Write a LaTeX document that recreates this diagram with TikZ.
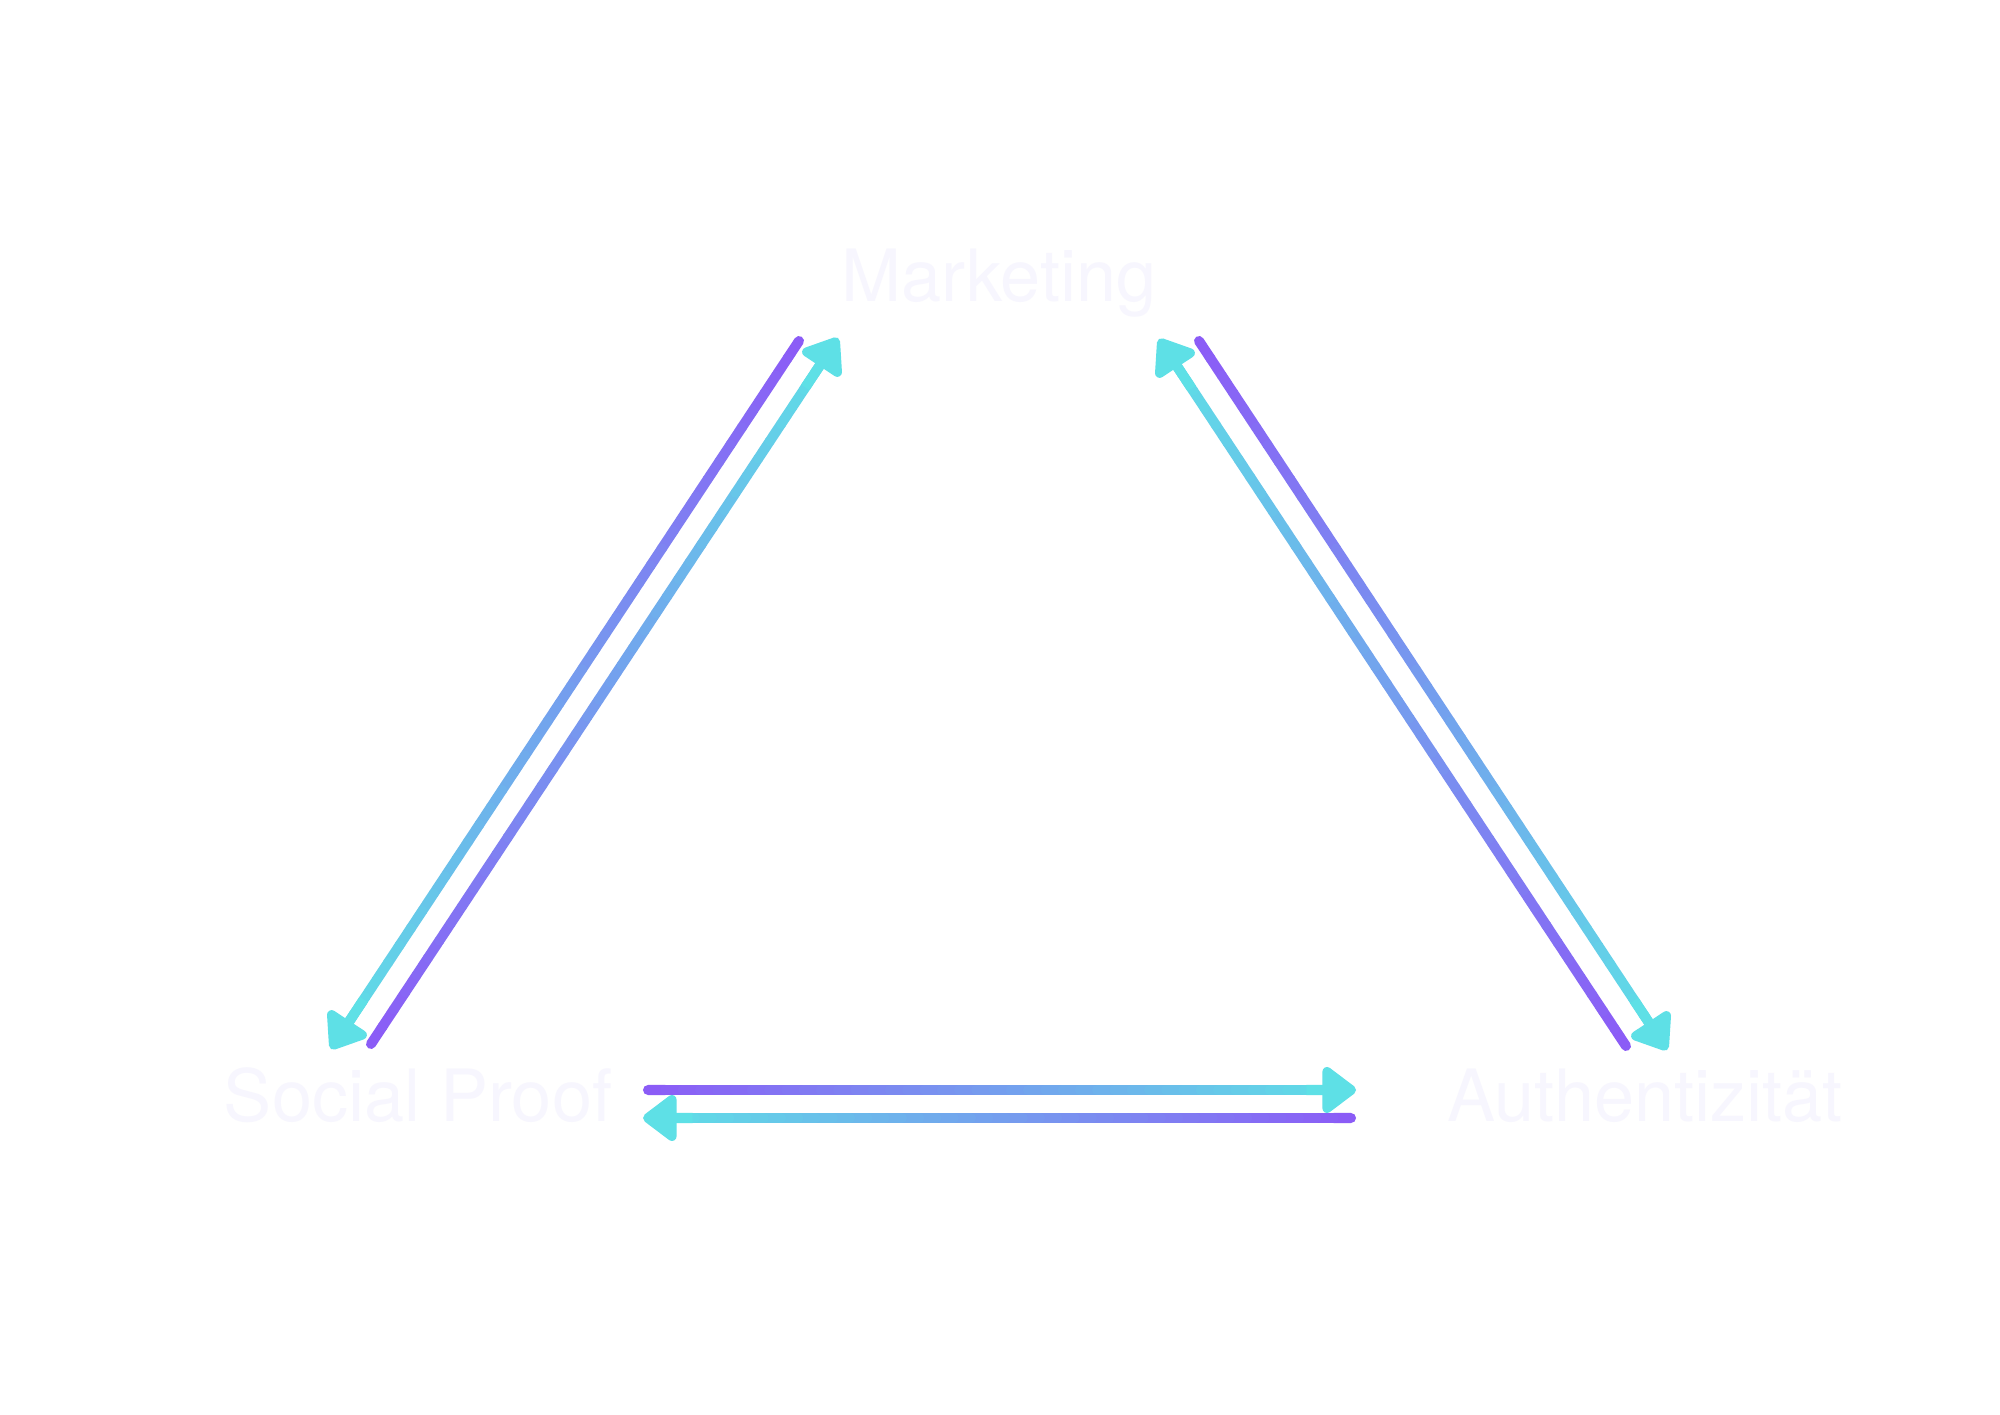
\documentclass[tikz,border=0pt]{standalone}
\usepackage{fontspec}
\setmainfont{TeX Gyre Heros}
\usepackage{tikz}
\usetikzlibrary{calc,arrows.meta}
\definecolor{purpleline}{HTML}{8B5CF6}
\definecolor{cyanline}{HTML}{5EE0E6}
\definecolor{labeltext}{HTML}{F7F6FE}

\begin{document}
\begin{tikzpicture}[label/.style = {anchor=base, text=labeltext, font=\fontsize{20.5}{24}\selectfont},
    gradline/.style = {line width=2.85pt, line cap=round},
    headline/.style = {draw=cyanline, line width=2.85pt, line join=round,
        -{Triangle[length=10.5pt, width=15pt, round]}}]
    \fill[white] (0,0) rectangle (20,14.14);
    \useasboundingbox (0,0) rectangle (20,14.14);
    \node[label] (marketing) at (9.99,11.12) {Marketing};
    \node[label] (social) at (4.18,2.92) {Social Proof};
    \node[label] (authent) at (16.45,2.92) {Authentizität};
    % ends of the six connectors
    \coordinate (m2s-tail) at (7.99,10.73);
    \coordinate (m2s-head) at (3.31,3.65);
    \coordinate (s2m-tail) at (3.71,3.70);
    \coordinate (s2m-head) at (8.38,10.76);
    \coordinate (m2a-tail) at (11.99,10.73);
    \coordinate (m2a-head) at (16.67,3.64);
    \coordinate (a2m-tail) at (16.26,3.68);
    \coordinate (a2m-head) at (11.59,10.75);
    \coordinate (s2a-tail) at (6.48,3.24);
    \coordinate (s2a-head) at (13.56,3.24);
    \coordinate (a2s-tail) at (13.51,2.96);
    \coordinate (a2s-head) at (6.43,2.96);
    \foreach \t in {m2s, s2m, m2a, a2m, s2a, a2s} {
        \foreach \i in {0,...,39} {
            \pgfmathsetmacro\mix{100-2.5*\i}
            \draw[gradline, draw=purpleline!\mix!cyanline]
                ($(\t-tail)!\i/41!(\t-head)$) -- ($(\t-tail)!{(\i+1)/41}!(\t-head)$);
        }
        \draw[headline] ($(\t-tail)!0.93!(\t-head)$) -- (\t-head);
    }
\end{tikzpicture}
\end{document}
